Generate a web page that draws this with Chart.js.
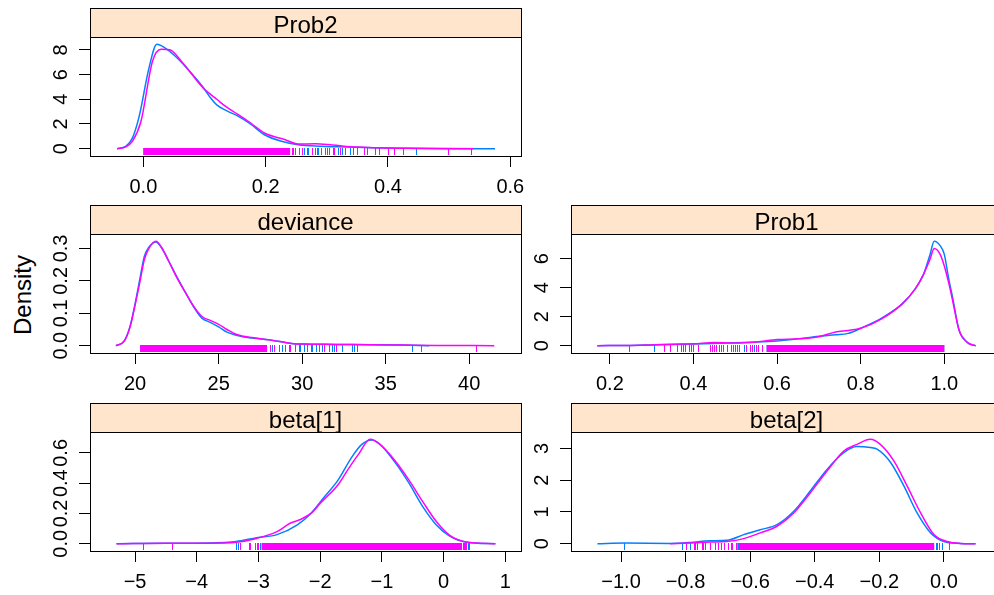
<!DOCTYPE html>
<html>
<head>
<meta charset="utf-8">
<script src="https://cdn.jsdelivr.net/npm/chart.js"></script>
<style>
  html, body { margin: 0; padding: 0; background: #fff; width: 994px; height: 595px; overflow: hidden; }
  body { position: relative; }
  canvas { position: absolute; }
  #ylab {
    position: absolute; left: -79px; top: 283px; width: 200px; height: 24px;
    line-height: 24px; text-align: center; color: #000;
    font: 24px "Liberation Sans", Arial, Helvetica, sans-serif;
    transform: rotate(-90deg);
  }
</style>
</head>
<body>
<div id="ylab">Density</div>
<canvas id="prob2"></canvas>
<canvas id="deviance"></canvas>
<canvas id="prob1"></canvas>
<canvas id="beta1"></canvas>
<canvas id="beta2"></canvas>
<script>
// ---- data (chain 1 = blue, chain 2 = magenta) ----

// Prob2
const prob2Chain1X = [-0.043, -0.029, -0.018, -0.007, 0.009, 0.022, 0.034, 0.054, 0.076, 0.098, 0.11, 0.12, 0.135, 0.154, 0.175, 0.198, 0.226, 0.253, 0.292, 0.32, 0.375, 0.43, 0.5, 0.575];
const prob2Chain1Y = [0, 0.19, 0.86, 2.6, 6.5, 8.45, 8.2, 7.4, 6.25, 4.95, 4.1, 3.55, 3.1, 2.65, 2.0, 1.13, 0.6, 0.32, 0.2, 0.15, 0.08, 0.03, 0.01, 0];
const prob2Chain2X = [-0.043, -0.029, -0.018, -0.004, 0.015, 0.029, 0.043, 0.065, 0.098, 0.11, 0.12, 0.135, 0.154, 0.175, 0.198, 0.232, 0.253, 0.281, 0.309, 0.348, 0.43, 0.54];
const prob2Chain2Y = [0, 0.15, 0.6, 2.2, 7.1, 8.05, 8.0, 6.9, 4.9, 4.4, 4.0, 3.4, 2.8, 2.1, 1.27, 0.73, 0.38, 0.4, 0.3, 0.13, 0.03, 0];
const prob2Rug1Dense = [0.0, 0.235];
const prob2Rug1 = [0.245, 0.255, 0.262, 0.27, 0.285, 0.3, 0.31, 0.318, 0.325, 0.33, 0.338, 0.343, 0.35, 0.365, 0.378, 0.445, 0.535];
const prob2Rug2Dense = [0.0, 0.24];
const prob2Rug2 = [0.243, 0.248, 0.255, 0.26, 0.268, 0.275, 0.28, 0.284, 0.29, 0.297, 0.303, 0.312, 0.322, 0.36, 0.385, 0.4, 0.41, 0.425, 0.498];
const prob2XLim = [-0.0873, 0.6175];
const prob2YLim = [-0.59, 9.04];
const prob2XTicks = [0, 0.2, 0.4, 0.6];
const prob2YTicks = [0, 2, 4, 6, 8];

// deviance
const devChain1X = [18.85, 19.35, 19.7, 20.0, 20.3, 20.55, 20.8, 21.25, 21.6, 22.0, 22.5, 23.0, 23.5, 24.0, 24.5, 25.0, 25.5, 26.0, 26.5, 27.0, 28.0, 29.0, 29.5, 30.0, 32.0, 34.0, 36.0, 37.6];
const devChain1Y = [0, 0.015, 0.06, 0.13, 0.21, 0.275, 0.302, 0.32, 0.3, 0.262, 0.212, 0.165, 0.12, 0.085, 0.072, 0.058, 0.042, 0.033, 0.027, 0.024, 0.018, 0.01, 0.006, 0.005, 0.004, 0.003, 0.002, 0];
const devChain2X = [18.85, 19.35, 19.7, 20.0, 20.3, 20.55, 20.8, 21.25, 21.6, 22.0, 22.5, 23.0, 23.5, 24.0, 24.5, 25.0, 25.5, 26.0, 26.5, 27.0, 28.0, 29.0, 29.5, 30.0, 32.0, 34.0, 36.0, 38.0, 41.5];
const devChain2Y = [0, 0.014, 0.058, 0.125, 0.2, 0.265, 0.298, 0.322, 0.302, 0.262, 0.21, 0.165, 0.122, 0.09, 0.078, 0.066, 0.05, 0.036, 0.029, 0.025, 0.018, 0.01, 0.006, 0.005, 0.004, 0.003, 0.002, 0.001, 0];
const devRug1Dense = [20.3, 27.6];
const devRug1 = [27.8, 28.2, 28.6, 28.8, 29.0, 29.2, 29.6, 29.9, 30.1, 30.6, 30.8, 31.0, 31.2, 31.8, 31.9, 32.4, 33.0, 33.1, 33.3, 36.6];
const devRug2Dense = [20.3, 27.9];
const devRug2 = [28.1, 28.3, 28.6, 29.0, 29.3, 29.8, 30.3, 30.5, 31.3, 31.6, 32.0, 37.1, 40.4];
const devXLim = [17.3, 43.1];
const devYLim = [-0.0225, 0.3445];
const devXTicks = [20, 25, 30, 35, 40];
const devYTicks = [0, 0.1, 0.2, 0.3];

// Prob1
const prob1X = [0.17, 0.25, 0.3, 0.35, 0.4, 0.45, 0.5, 0.55, 0.6, 0.65, 0.7, 0.74, 0.77, 0.8, 0.85, 0.9, 0.93, 0.95, 0.965, 0.976, 0.99, 1.0, 1.01, 1.02, 1.035, 1.055, 1.075];
const prob1Chain1Y = [0, 0.02, 0.05, 0.08, 0.12, 0.15, 0.2, 0.25, 0.33, 0.47, 0.65, 0.75, 0.85, 1.2, 1.9, 2.9, 3.9, 4.9, 6.2, 7.2, 6.9, 6.3, 4.7, 3.3, 1.1, 0.23, 0];
const prob1Chain2Y = [0, 0.02, 0.05, 0.1, 0.13, 0.22, 0.18, 0.25, 0.42, 0.48, 0.62, 0.95, 1.05, 1.2, 1.85, 2.9, 3.9, 4.9, 5.9, 6.7, 6.3, 5.5, 4.4, 3.1, 1.1, 0.23, 0];
const prob1Rug1Dense = [0.575, 1.0];
const prob1Rug1 = [0.245, 0.305, 0.375, 0.39, 0.4, 0.46, 0.48, 0.5, 0.52, 0.545];
const prob1Rug2Dense = [0.575, 1.0];
const prob1Rug2 = [0.245, 0.33, 0.345, 0.36, 0.37, 0.38, 0.395, 0.41, 0.44, 0.445, 0.45, 0.455, 0.465, 0.47, 0.49, 0.495, 0.505, 0.51, 0.525, 0.535, 0.54, 0.55, 0.555, 0.565];
const prob1XLim = [0.107, 1.138];
const prob1YLim = [-0.504, 7.704];
const prob1XTicks = [0.2, 0.4, 0.6, 0.8, 1.0];
const prob1YTicks = [0, 2, 4, 6];

// beta[1]
const beta1Chain1X = [-5.3, -4.5, -3.8, -3.36, -3.03, -2.7, -2.37, -2.15, -1.93, -1.71, -1.49, -1.33, -1.16, -1.0, -0.78, -0.56, -0.34, -0.12, 0.1, 0.37, 0.84];
const beta1Chain1Y = [0, 0.003, 0.005, 0.015, 0.04, 0.06, 0.125, 0.2, 0.31, 0.42, 0.57, 0.655, 0.685, 0.645, 0.534, 0.40, 0.247, 0.126, 0.05, 0.01, 0];
const beta1Chain2X = [-5.3, -4.5, -3.8, -3.36, -3.03, -2.7, -2.48, -2.32, -2.15, -1.99, -1.71, -1.55, -1.38, -1.19, -1.03, -0.78, -0.56, -0.34, -0.12, 0.1, 0.37, 0.84];
const beta1Chain2Y = [0, 0.004, 0.004, 0.01, 0.035, 0.08, 0.137, 0.16, 0.2, 0.27, 0.39, 0.49, 0.59, 0.69, 0.656, 0.545, 0.42, 0.28, 0.148, 0.055, 0.011, 0];
const beta1Rug1Dense = [-2.9, 0.22];
const beta1Rug1 = [-3.36, -3.33, -3.15, -3.05, -3.02, -2.97, 0.25, 0.28, 0.32, 0.34, 0.36, 0.39, 0.42];
const beta1Rug2Dense = [-2.95, 0.3];
const beta1Rug2 = [-4.87, -4.4, -3.3, -3.13, -3.0, 0.33, 0.37, 0.41];
const beta1XLim = [-5.73, 1.255];
const beta1YLim = [-0.048, 0.738];
const beta1XTicks = [-5, -4, -3, -2, -1, 0, 1];
const beta1YTicks = [0, 0.2, 0.4, 0.6];

// beta[2]
const beta2Chain1X = [-1.073, -0.988, -0.85, -0.786, -0.724, -0.672, -0.62, -0.569, -0.517, -0.465, -0.414, -0.362, -0.31, -0.269, -0.228, -0.207, -0.165, -0.124, -0.083, -0.041, 0.0, 0.05, 0.098];
const beta2Chain1Y = [0, 0.02, 0.01, 0.04, 0.095, 0.105, 0.285, 0.44, 0.6, 1.02, 1.66, 2.34, 2.87, 3.06, 3.03, 2.98, 2.56, 1.82, 0.97, 0.34, 0.07, 0.01, 0];
const beta2Chain2X = [-0.848, -0.786, -0.724, -0.672, -0.62, -0.569, -0.517, -0.465, -0.414, -0.362, -0.31, -0.269, -0.228, -0.197, -0.155, -0.114, -0.072, -0.031, 0.01, 0.05, 0.098];
const beta2Chain2Y = [0, 0.02, 0.05, 0.07, 0.16, 0.34, 0.55, 0.97, 1.6, 2.29, 2.92, 3.13, 3.29, 3.13, 2.61, 1.82, 0.97, 0.29, 0.07, 0.01, 0];
const beta2Rug1Dense = [-0.64, -0.045];
const beta2Rug1 = [-0.99, -0.81, -0.785, -0.77, -0.745, -0.71, -0.69, -0.66, -0.035, -0.025, -0.015, -0.005];
const beta2Rug2Dense = [-0.635, -0.03];
const beta2Rug2 = [-0.8, -0.775, -0.765, -0.75, -0.74, -0.725, -0.7, -0.68, -0.67, -0.655, -0.645, -0.02, 0.015];
const beta2XLim = [-1.155, 0.18];
const beta2YLim = [-0.23, 3.52];
const beta2XTicks = [-1.0, -0.8, -0.6, -0.4, -0.2, 0.0];
const beta2YTicks = [0, 1, 2, 3];

// ---- layout ----
const FONT = '"Liberation Sans", Arial, Helvetica, sans-serif';
const BLUE = '#0080ff';
const MAGENTA = '#ff00ff';
const STRIP_H = 29, PLOT_W = 431, PLOT_H = 119;
const AXIS_W = 70, AXIS_H = 45, PAD_R = 30;
const TICK_FONT = 20;

const panels = [
  { id: 'prob2', name: 'Prob2', left: 90, top: 8,
    x1: prob2Chain1X, y1: prob2Chain1Y, x2: prob2Chain2X, y2: prob2Chain2Y,
    rug1Dense: prob2Rug1Dense, rug1: prob2Rug1, rug2Dense: prob2Rug2Dense, rug2: prob2Rug2,
    xLim: prob2XLim, yLim: prob2YLim, xTicks: prob2XTicks, yTicks: prob2YTicks, xDec: 1, yDec: 0 },
  { id: 'deviance', name: 'deviance', left: 90, top: 205,
    x1: devChain1X, y1: devChain1Y, x2: devChain2X, y2: devChain2Y,
    rug1Dense: devRug1Dense, rug1: devRug1, rug2Dense: devRug2Dense, rug2: devRug2,
    xLim: devXLim, yLim: devYLim, xTicks: devXTicks, yTicks: devYTicks, xDec: 0, yDec: 1 },
  { id: 'prob1', name: 'Prob1', left: 571, top: 205,
    x1: prob1X, y1: prob1Chain1Y, x2: prob1X, y2: prob1Chain2Y,
    rug1Dense: prob1Rug1Dense, rug1: prob1Rug1, rug2Dense: prob1Rug2Dense, rug2: prob1Rug2,
    xLim: prob1XLim, yLim: prob1YLim, xTicks: prob1XTicks, yTicks: prob1YTicks, xDec: 1, yDec: 0 },
  { id: 'beta1', name: 'beta[1]', left: 90, top: 403,
    x1: beta1Chain1X, y1: beta1Chain1Y, x2: beta1Chain2X, y2: beta1Chain2Y,
    rug1Dense: beta1Rug1Dense, rug1: beta1Rug1, rug2Dense: beta1Rug2Dense, rug2: beta1Rug2,
    xLim: beta1XLim, yLim: beta1YLim, xTicks: beta1XTicks, yTicks: beta1YTicks, xDec: 0, yDec: 1 },
  { id: 'beta2', name: 'beta[2]', left: 571, top: 403,
    x1: beta2Chain1X, y1: beta2Chain1Y, x2: beta2Chain2X, y2: beta2Chain2Y,
    rug1Dense: beta2Rug1Dense, rug1: beta2Rug1, rug2Dense: beta2Rug2Dense, rug2: beta2Rug2,
    xLim: beta2XLim, yLim: beta2YLim, xTicks: beta2XTicks, yTicks: beta2YTicks, xDec: 1, yDec: 0 }
];
const panelById = {};
panels.forEach(p => { panelById[p.id] = p; });

function fmt(v, dec) {
  return v.toFixed(dec).replace('-', '\u2212');
}

// strip, box, rotated y labels and rug, lattice style
const latticePanel = {
  id: 'latticePanel',
  beforeDatasetsDraw(chart) {
    const p = panelById[chart.canvas.id];
    const { ctx, chartArea: a, scales: { x, y } } = chart;
    const y0 = Math.round(y.getPixelForValue(0));
    ctx.save();
    ctx.beginPath();
    ctx.rect(a.left, a.top, a.right - a.left, a.bottom - a.top);
    ctx.clip();
    [[p.rug1Dense, p.rug1, BLUE], [p.rug2Dense, p.rug2, MAGENTA]].forEach(([dense, marks, col]) => {
      ctx.fillStyle = col;
      ctx.strokeStyle = col;
      ctx.lineWidth = 1;
      const xa = x.getPixelForValue(dense[0]);
      const xb = x.getPixelForValue(dense[1]);
      ctx.fillRect(xa, y0 - 1, xb - xa, 7);
      ctx.beginPath();
      marks.forEach(v => {
        const px = Math.round(x.getPixelForValue(v)) + 0.5;
        ctx.moveTo(px, y0 - 1);
        ctx.lineTo(px, y0 + 6);
      });
      ctx.stroke();
    });
    ctx.restore();
  },
  afterDraw(chart) {
    const p = panelById[chart.canvas.id];
    const { ctx, chartArea: a, scales: { y } } = chart;
    const w = a.right - a.left;
    ctx.save();
    // plot box
    ctx.strokeStyle = '#000';
    ctx.lineWidth = 1;
    ctx.strokeRect(a.left + 0.5, a.top + 0.5, w, a.bottom - a.top);
    // strip
    ctx.fillStyle = '#ffe5cc';
    ctx.fillRect(a.left, 0, w, STRIP_H);
    ctx.strokeRect(a.left + 0.5, 0.5, w, STRIP_H);
    ctx.fillStyle = '#000';
    ctx.font = '24px ' + FONT;
    ctx.textAlign = 'center';
    ctx.textBaseline = 'alphabetic';
    ctx.fillText(p.name, a.left + w / 2, STRIP_H - 4);
    // y tick labels, rotated like R
    ctx.font = TICK_FONT + 'px ' + FONT;
    y.ticks.forEach(t => {
      ctx.save();
      ctx.translate(a.left - 23, y.getPixelForValue(t.value));
      ctx.rotate(-Math.PI / 2);
      ctx.fillText(fmt(t.value, p.yDec), 0, 0);
      ctx.restore();
    });
    ctx.restore();
  }
};

panels.forEach(p => {
  const canvas = document.getElementById(p.id);
  canvas.width = AXIS_W + PLOT_W + PAD_R;
  canvas.height = STRIP_H + PLOT_H + AXIS_H;
  canvas.style.left = (p.left - AXIS_W) + 'px';
  canvas.style.top = p.top + 'px';

  new Chart(canvas.getContext('2d'), {
    type: 'line',
    data: {
      datasets: [
        // first dataset is drawn on top
        { data: p.x2.map((v, i) => ({ x: v, y: p.y2[i] })), borderColor: MAGENTA },
        { data: p.x1.map((v, i) => ({ x: v, y: p.y1[i] })), borderColor: BLUE }
      ].map(d => Object.assign(d, {
        borderWidth: 1.5, pointRadius: 0, fill: false, cubicInterpolationMode: 'monotone'
      }))
    },
    options: {
      responsive: false,
      animation: false,
      devicePixelRatio: 1,
      events: [],
      layout: { padding: { top: STRIP_H, right: PAD_R, left: 0, bottom: 0 } },
      plugins: { legend: { display: false }, tooltip: { enabled: false } },
      scales: {
        x: {
          type: 'linear', min: p.xLim[0], max: p.xLim[1],
          afterBuildTicks: s => { s.ticks = p.xTicks.map(v => ({ value: v })); },
          afterFit: s => { s.height = AXIS_H; },
          ticks: {
            color: '#000', font: { family: FONT, size: TICK_FONT }, padding: 8,
            maxRotation: 0, minRotation: 0, autoSkip: false,
            callback: v => fmt(v, p.xDec)
          },
          grid: { drawOnChartArea: false, drawTicks: true, tickLength: 11, color: '#000', lineWidth: 1 },
          border: { display: false }
        },
        y: {
          type: 'linear', min: p.yLim[0], max: p.yLim[1],
          afterBuildTicks: s => { s.ticks = p.yTicks.map(v => ({ value: v })); },
          afterFit: s => { s.width = AXIS_W; },
          ticks: { display: false },
          grid: { drawOnChartArea: false, drawTicks: true, tickLength: 11, color: '#000', lineWidth: 1 },
          border: { display: false }
        }
      }
    },
    plugins: [latticePanel]
  });
});
</script>
</body>
</html>
